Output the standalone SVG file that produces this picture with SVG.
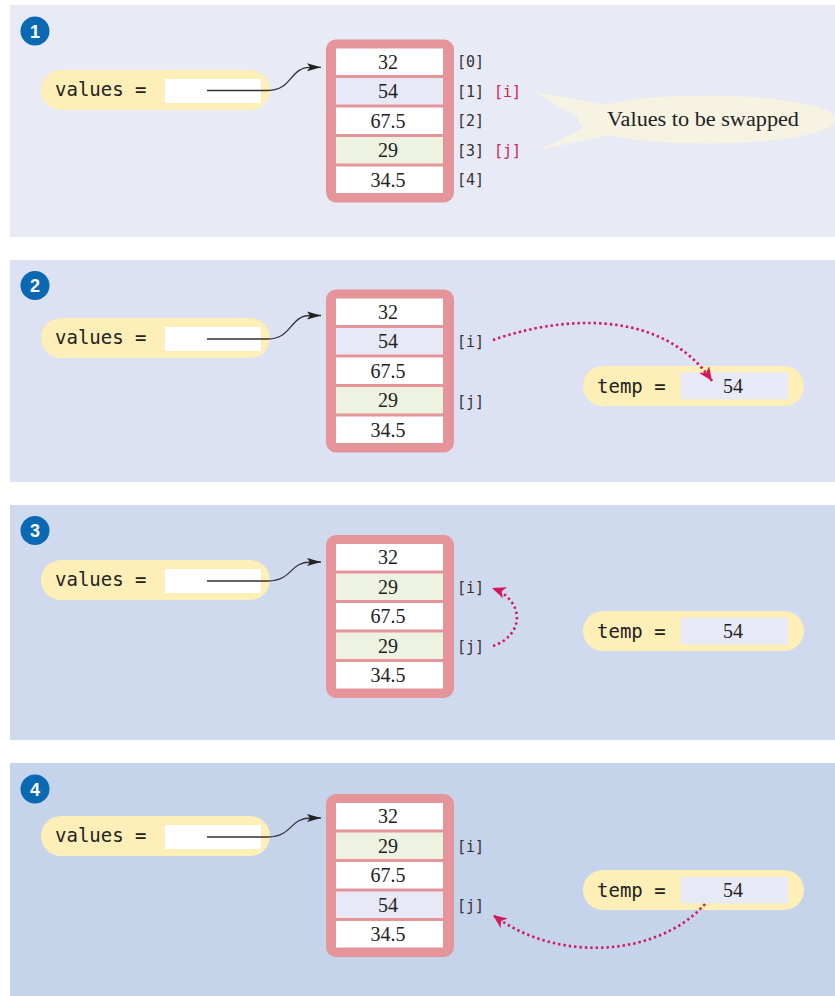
<svg xmlns="http://www.w3.org/2000/svg" width="835" height="996" viewBox="0 0 835 996">
<defs>
<style>
.pill{fill:#fdefb7}
.arr{fill:#e5959a}
.cw{fill:#ffffff}
.cl{fill:#e8e9f6}
.cg{fill:#eef3e1}
.num{font-family:"Liberation Serif",serif;font-size:20px;fill:#222;text-anchor:middle}
.mono{font-family:"DejaVu Sans Mono","Liberation Mono",monospace;font-size:19px;fill:#222}
.idx{font-family:"DejaVu Sans Mono","Liberation Mono",monospace;font-size:15px;fill:#333}
.red{fill:#d0245a}
.badge{fill:#0b69b3}
.bnum{font-family:"Liberation Sans",sans-serif;font-weight:bold;font-size:18px;fill:#fff;text-anchor:middle}
.ptr{fill:none;stroke:#333;stroke-width:1.3}
.dot{fill:none;stroke:#d2195a;stroke-width:2.6;stroke-dasharray:2.4 3}
</style>
<marker id="ah" markerUnits="userSpaceOnUse" markerWidth="14" markerHeight="10" refX="14" refY="5" orient="auto"><path d="M0,1 L14,5 L0,9 L3,5 z" fill="#222"/></marker>
<marker id="rh" markerUnits="userSpaceOnUse" markerWidth="14" markerHeight="12" refX="14" refY="6" orient="auto"><path d="M0,0 L14,6 L0,12 L4,6 z" fill="#d2195a"/></marker>
</defs>

<g id="panels">
<rect x="10" y="5" width="825" height="232" fill="#e8eaf6"/>
<rect x="10" y="260" width="825" height="222" fill="#dce1f3"/>
<rect x="10" y="505" width="825" height="235" fill="#d0daef"/>
<rect x="10" y="763" width="825" height="233" fill="#c5d3eb"/>
</g>

<!-- Panel 1 -->
<g id="badge1"><circle class="badge" cx="35" cy="31" r="14.5"/><text class="bnum" x="35" y="37.5">1</text></g>
<g id="values1"><rect class="pill" x="41" y="70" width="229" height="40" rx="20"/><rect class="cw" x="165" y="79" width="96" height="24"/><text class="mono" x="55" y="96">values =</text></g>
<g id="array1">
<rect class="arr" x="326" y="39.5" width="128" height="163" rx="10"/>
<rect class="cw" x="336" y="48.5" width="107" height="26.5"/><text class="num" x="388" y="68.5">32</text>
<rect class="cl" x="336" y="78" width="107" height="26.5"/><text class="num" x="388" y="98">54</text>
<rect class="cw" x="336" y="107.5" width="107" height="26.5"/><text class="num" x="388" y="127.5">67.5</text>
<rect class="cg" x="336" y="137" width="107" height="26.5"/><text class="num" x="388" y="157">29</text>
<rect class="cw" x="336" y="166.5" width="107" height="26.5"/><text class="num" x="388" y="186.5">34.5</text>
<text class="idx" x="457" y="67">[0]</text>
<text class="idx" x="457" y="96.5">[1]</text><text class="idx red" x="494" y="96.5">[i]</text>
<text class="idx" x="457" y="126">[2]</text>
<text class="idx" x="457" y="155.5">[3]</text><text class="idx red" x="494" y="155.5">[j]</text>
<text class="idx" x="457" y="185">[4]</text>
</g>
<g id="callout1">
<ellipse cx="707" cy="119.5" rx="129" ry="24" fill="#f6f3e3"/>
<path d="M535,92 L606,105 L610,135 L539,150 L590,125 Z" fill="#f6f3e3"/>
<text x="607" y="126" font-family="Liberation Serif,serif" font-size="20.5" fill="#222" textLength="192" lengthAdjust="spacingAndGlyphs">Values to be swapped</text>
</g>

<!-- Panel 2 -->
<g id="badge2"><circle class="badge" cx="35" cy="285.5" r="14.5"/><text class="bnum" x="35" y="292">2</text></g>
<g id="values2"><rect class="pill" x="41" y="318" width="229" height="40" rx="20"/><rect class="cw" x="165" y="327" width="96" height="24"/><text class="mono" x="55" y="344">values =</text></g>
<g id="array2">
<rect class="arr" x="326" y="289.5" width="128" height="163" rx="10"/>
<rect class="cw" x="336" y="298.5" width="107" height="26.5"/><text class="num" x="388" y="318.5">32</text>
<rect class="cl" x="336" y="328" width="107" height="26.5"/><text class="num" x="388" y="348">54</text>
<rect class="cw" x="336" y="357.5" width="107" height="26.5"/><text class="num" x="388" y="377.5">67.5</text>
<rect class="cg" x="336" y="387" width="107" height="26.5"/><text class="num" x="388" y="407">29</text>
<rect class="cw" x="336" y="416.5" width="107" height="26.5"/><text class="num" x="388" y="436.5">34.5</text>
<text class="idx" x="457" y="347">[i]</text>
<text class="idx" x="457" y="406.5">[j]</text>
</g>
<g id="temp2"><rect class="pill" x="583" y="366" width="221" height="40" rx="20"/><rect class="cl" x="681" y="372.5" width="107" height="27"/><text class="mono" x="597" y="392.5">temp =</text><text class="num" x="733" y="393">54</text></g>

<!-- Panel 3 -->
<g id="badge3"><circle class="badge" cx="35" cy="530.5" r="14.5"/><text class="bnum" x="35" y="537">3</text></g>
<g id="values3"><rect class="pill" x="41" y="560" width="229" height="40" rx="20"/><rect class="cw" x="165" y="569" width="96" height="24"/><text class="mono" x="55" y="586">values =</text></g>
<g id="array3">
<rect class="arr" x="326" y="535" width="128" height="163" rx="10"/>
<rect class="cw" x="336" y="544" width="107" height="26.5"/><text class="num" x="388" y="564">32</text>
<rect class="cg" x="336" y="573.5" width="107" height="26.5"/><text class="num" x="388" y="593.5">29</text>
<rect class="cw" x="336" y="603" width="107" height="26.5"/><text class="num" x="388" y="623">67.5</text>
<rect class="cg" x="336" y="632.5" width="107" height="26.5"/><text class="num" x="388" y="652.5">29</text>
<rect class="cw" x="336" y="662" width="107" height="26.5"/><text class="num" x="388" y="682">34.5</text>
<text class="idx" x="457" y="592.5">[i]</text>
<text class="idx" x="457" y="652">[j]</text>
</g>
<g id="temp3"><rect class="pill" x="583" y="611" width="221" height="40" rx="20"/><rect class="cl" x="681" y="617.5" width="107" height="27"/><text class="mono" x="597" y="637.5">temp =</text><text class="num" x="733" y="638">54</text></g>

<!-- Panel 4 -->
<g id="badge4"><circle class="badge" cx="35" cy="789" r="14.5"/><text class="bnum" x="35" y="795.5">4</text></g>
<g id="values4"><rect class="pill" x="41" y="816" width="229" height="40" rx="20"/><rect class="cw" x="165" y="825" width="96" height="24"/><text class="mono" x="55" y="842">values =</text></g>
<g id="array4">
<rect class="arr" x="326" y="794" width="128" height="163" rx="10"/>
<rect class="cw" x="336" y="803" width="107" height="26.5"/><text class="num" x="388" y="823">32</text>
<rect class="cg" x="336" y="832.5" width="107" height="26.5"/><text class="num" x="388" y="852.5">29</text>
<rect class="cw" x="336" y="862" width="107" height="26.5"/><text class="num" x="388" y="882">67.5</text>
<rect class="cl" x="336" y="891.5" width="107" height="26.5"/><text class="num" x="388" y="911.5">54</text>
<rect class="cw" x="336" y="921" width="107" height="26.5"/><text class="num" x="388" y="941">34.5</text>
<text class="idx" x="457" y="851.5">[i]</text>
<text class="idx" x="457" y="911">[j]</text>
</g>
<g id="temp4"><rect class="pill" x="583" y="870" width="221" height="40" rx="20"/><rect class="cl" x="681" y="877" width="107" height="26.5"/><text class="mono" x="597" y="896.5">temp =</text><text class="num" x="733" y="897">54</text></g>

<g id="connectors">
<path class="ptr" d="M207,90.5 L268,90.5 C292,90.5 290,67.3 310,67.3 L321,67.3" marker-end="url(#ah)"/>
<path class="ptr" d="M207,339 L268,339 C292,339 290,315.5 310,315.5 L321,315.5" marker-end="url(#ah)"/>
<path class="ptr" d="M207,581 L268,581 C292,581 290,562 310,562 L321,562" marker-end="url(#ah)"/>
<path class="ptr" d="M207,837 L268,837 C292,837 290,818 310,818 L321,818" marker-end="url(#ah)"/>
<path class="dot" d="M493,340 C555,318 660,305 712,381" marker-end="url(#rh)"/>
<path class="dot" d="M493,646 C525,635 525,600 492,588" marker-end="url(#rh)"/>
<path class="dot" d="M705,904 C660,955 560,965 493,915" marker-end="url(#rh)"/>
</g>
</svg>
